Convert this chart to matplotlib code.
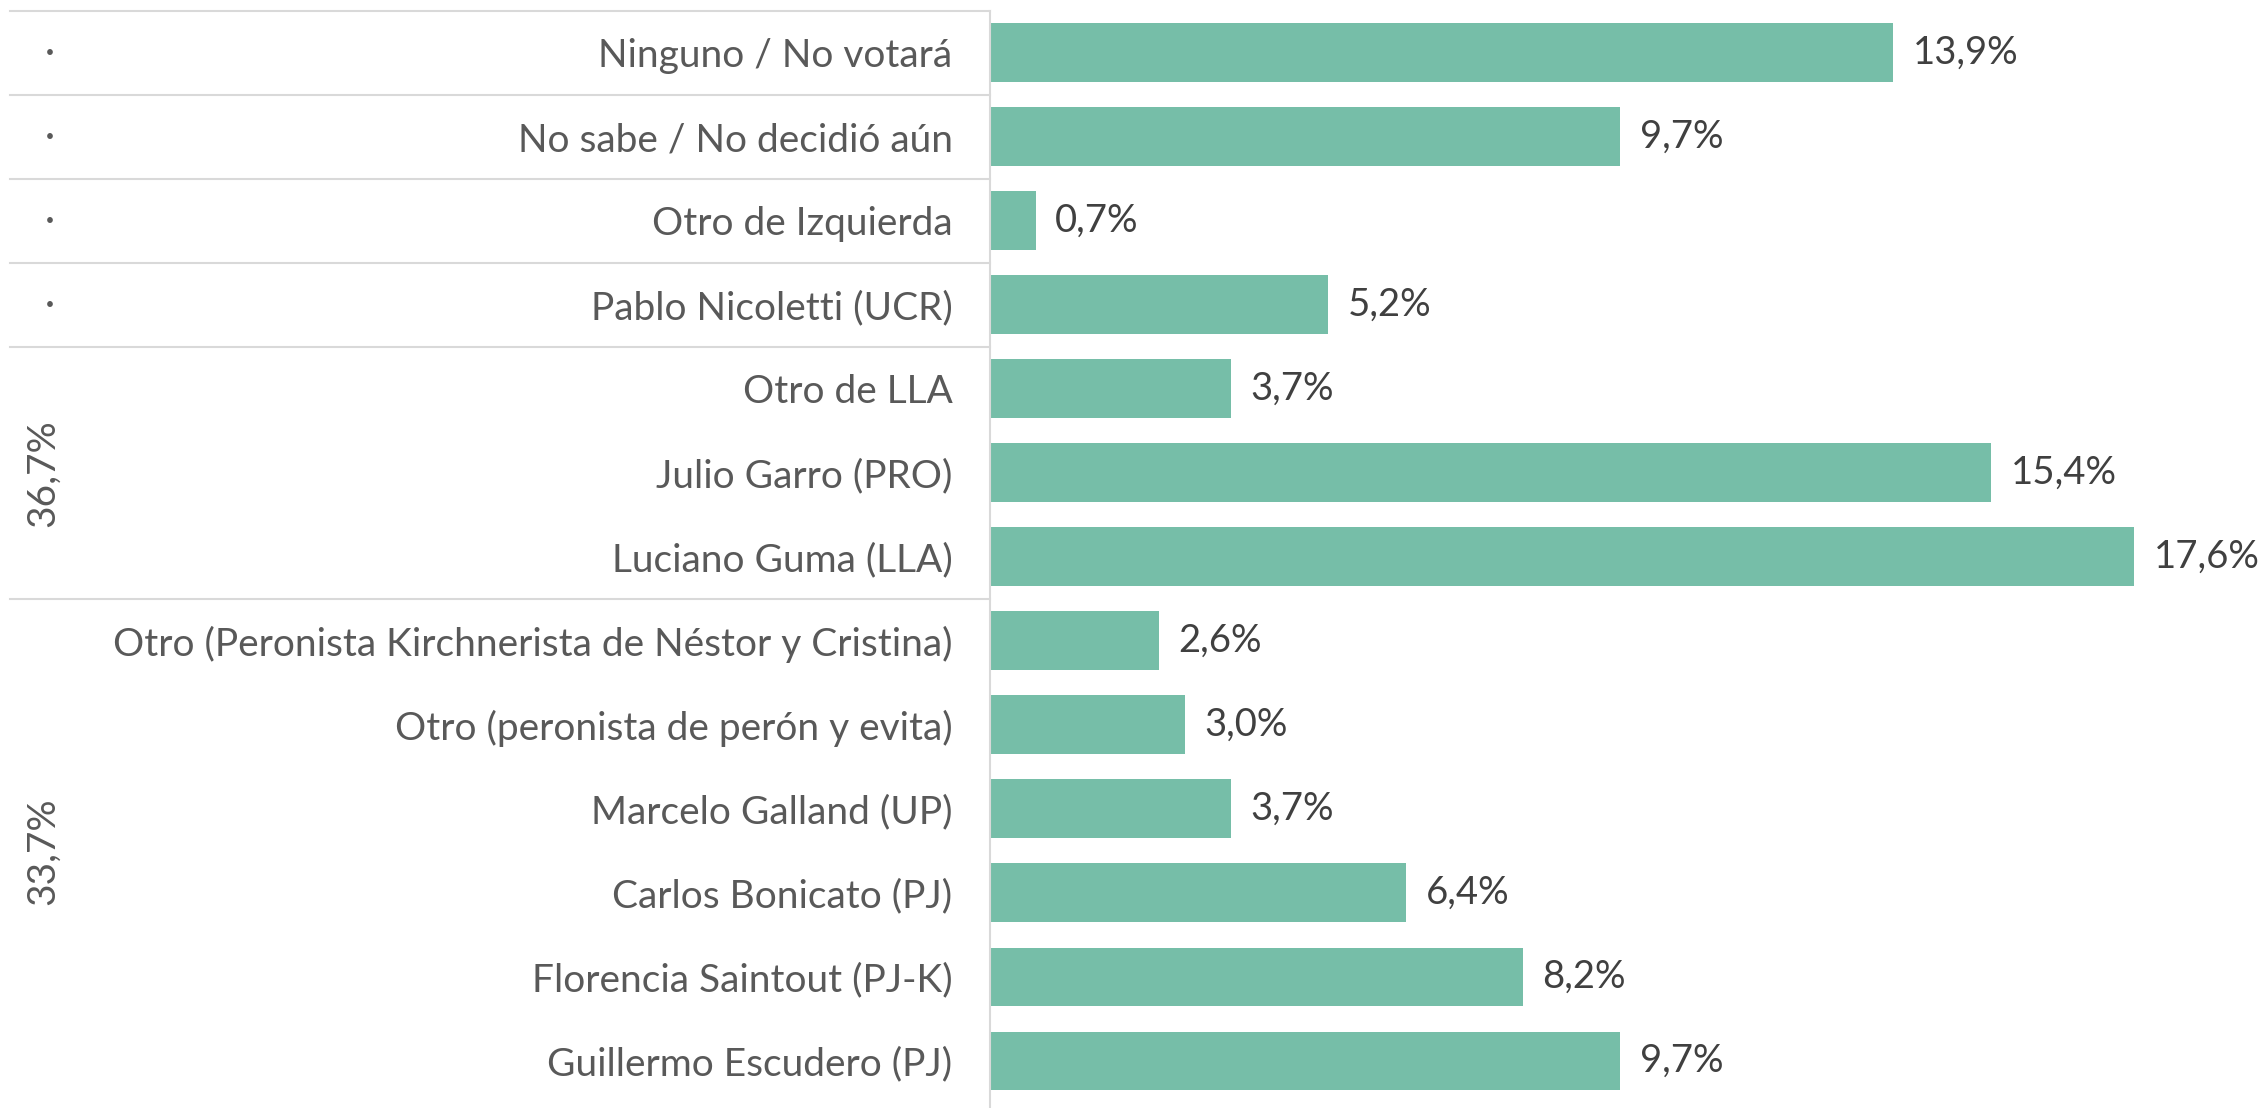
import matplotlib
matplotlib.use("Agg")
import matplotlib.pyplot as plt
import matplotlib.transforms as mtransforms

plt.rcParams['font.family'] = ['Lato', 'DejaVu Sans']

# data, top to bottom
categories = [
    "Ninguno / No votará",
    "No sabe / No decidió aún",
    "Otro de Izquierda",
    "Pablo Nicoletti (UCR)",
    "Otro de LLA",
    "Julio Garro (PRO)",
    "Luciano Guma (LLA)",
    "Otro (Peronista Kirchnerista de Néstor y Cristina)",
    "Otro (peronista de perón y evita)",
    "Marcelo Galland (UP)",
    "Carlos Bonicato (PJ)",
    "Florencia Saintout (PJ-K)",
    "Guillermo Escudero (PJ)",
]
values = [13.9, 9.7, 0.7, 5.2, 3.7, 15.4, 17.6, 2.6, 3.0, 3.7, 6.4, 8.2, 9.7]

# groups: (label, first row, last row)
group_labels = ["·", "·", "·", "·", "36,7%", "33,7%"]
group_rows = [(0, 0), (1, 1), (2, 2), (3, 3), (4, 6), (7, 12)]

bar_color = "#76bea8"
text_color = "#595959"
grid_color = "#d9d9d9"
fs = 28

W, H = 2264, 1108
fig = plt.figure(figsize=(W / 100, H / 100), dpi=100)
ax_left = 990 / W
ax_top = 1 - 10.6 / H
ax = fig.add_axes([ax_left, 0, 1 - ax_left, ax_top])

n = len(categories)
ys = list(range(n))
ax.barh(ys, values, height=0.7, color=bar_color)
ax.set_ylim(n - 0.5 + 0.06, -0.5)
ax.set_xlim(0, 1274 / 65)

for y, v in zip(ys, values):
    ax.text(v + 0.3, y, f"{v:.1f}%".replace(".", ","), va="center", ha="left",
            fontsize=27.5, color="#404040")

ax.set_yticks(ys)
ax.set_yticklabels(categories, fontsize=fs, color=text_color)
ax.tick_params(axis="y", length=0, pad=27)
ax.set_xticks([])
for s in ["top", "right", "bottom"]:
    ax.spines[s].set_visible(False)
ax.spines["left"].set_color(grid_color)
ax.spines["left"].set_linewidth(1.5)

trans = mtransforms.blended_transform_factory(fig.transFigure, ax.transData)
x0 = 10 / W
for lab, (a, b) in zip(group_labels, group_rows):
    top = a - 0.5
    ax.plot([x0, ax_left], [top, top], color=grid_color, lw=1.5,
            transform=trans, clip_on=False)
    yc = (a + b) / 2
    if lab == "·":
        ax.text(50 / W, yc, lab, transform=trans, ha="center", va="center",
                fontsize=fs, color=text_color)
    else:
        ax.text(43 / W, yc, lab, transform=trans, ha="center", va="center",
                rotation=90, fontsize=fs, color=text_color)

fig.savefig("out.png", dpi=100)
